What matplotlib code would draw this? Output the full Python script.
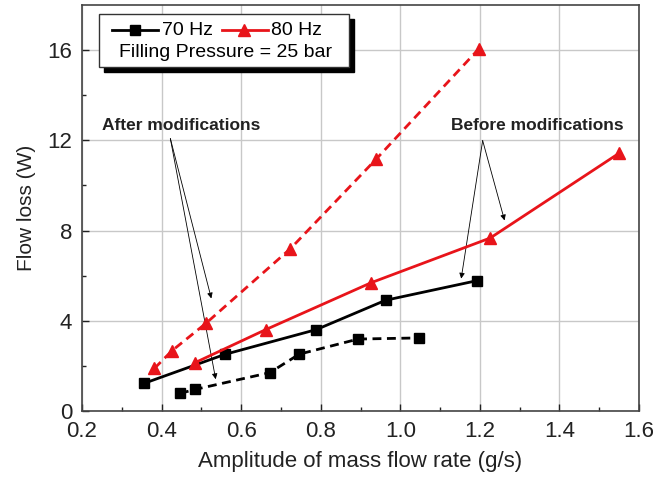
import matplotlib
matplotlib.use('Agg')
import matplotlib.pyplot as plt
from matplotlib.patches import Rectangle
from matplotlib.lines import Line2D

plt.rcParams['font.family'] = ['Liberation Sans', 'DejaVu Sans']

# 70 Hz, before modifications (solid)
x70_before = [0.355, 0.559, 0.789, 0.963, 1.193]
y70_before = [1.22, 2.51, 3.61, 4.91, 5.78]
# 70 Hz, after modifications (dashed)
x70_after = [0.446, 0.485, 0.672, 0.746, 0.894, 1.047]
y70_after = [0.78, 0.96, 1.70, 2.52, 3.19, 3.24]
# 80 Hz, before modifications (solid)
x80_before = [0.485, 0.662, 0.927, 1.226, 1.550]
y80_before = [2.15, 3.61, 5.69, 7.67, 11.43]
# 80 Hz, after modifications (dashed)
x80_after = [0.382, 0.426, 0.511, 0.724, 0.940, 1.197]
y80_after = [1.89, 2.67, 3.88, 7.20, 11.18, 16.05]

xticks = [0.2, 0.4, 0.6, 0.8, 1.0, 1.2, 1.4, 1.6]
yticks = [0, 4, 8, 12, 16]

fig = plt.figure(figsize=(6.53, 4.82), dpi=100)
ax = fig.add_axes([0.1256, 0.1473, 0.853, 0.8423])

red = '#e8141a'
dash = (3.2, 2.0)
ax.plot(x70_before, y70_before, '-', color='k', lw=2.0, marker='s', ms=6.5, zorder=4)
ax.plot(x70_after, y70_after, color='k', lw=2.0, ls=(0, dash), marker='s', ms=6.5, zorder=4)
ax.plot(x80_before, y80_before, '-', color=red, lw=2.0, marker='^', ms=8, zorder=4)
ax.plot(x80_after, y80_after, color=red, lw=2.0, ls=(0, dash), marker='^', ms=8, zorder=4)

ax.set_xlim(0.2, 1.6)
ax.set_ylim(0, 18)
ax.set_xticks(xticks)
ax.set_xticklabels(['%.1f' % v for v in xticks])
ax.set_yticks(yticks)
ax.set_xticks([0.3, 0.5, 0.7, 0.9, 1.1, 1.3, 1.5], minor=True)
ax.set_yticks([2, 6, 10, 14], minor=True)
ax.tick_params(which='both', direction='in', labelsize=16, colors='#222222', width=1.0)
ax.tick_params(which='major', length=5)
ax.tick_params(which='minor', length=3)
ax.tick_params(axis='x', which='major', pad=7)
ax.tick_params(axis='y', which='major', pad=7)
ax.grid(True, which='major', color='#c8c8c8', lw=1.0)
ax.set_axisbelow(True)
for s in ax.spines.values():
    s.set_color('#444444')
    s.set_linewidth(1.2)

ax.set_xlabel('Amplitude of mass flow rate (g/s)', fontsize=16, labelpad=7, color='#222222')
ax.set_ylabel('Flow loss (W)', fontsize=15, labelpad=8, color='#222222')

# annotations
arrow = dict(arrowstyle='-|>', lw=0.6, color='k', mutation_scale=8, shrinkA=0, shrinkB=0)
ax.text(0.45, 12.65, 'After modifications', fontsize=12.5, fontweight='bold',
        ha='center', va='center', color='#222222')
ax.text(1.344, 12.65, 'Before modifications', fontsize=12.5, fontweight='bold',
        ha='center', va='center', color='#222222')
for tip in [(0.525, 4.99), (0.536, 1.41)]:
    ax.annotate('', xy=tip, xytext=(0.422, 12.08), arrowprops=arrow)
for tip in [(1.153, 5.87), (1.262, 8.45)]:
    ax.annotate('', xy=tip, xytext=(1.207, 11.99), arrowprops=arrow)

# legend box with shadow
bx0, by0, bw, bh = 0.0305, 0.847, 0.4485, 0.131
ax.add_patch(Rectangle((bx0 + 0.009, by0 - 0.0123), bw, bh, transform=ax.transAxes,
                       facecolor='k', edgecolor='k', zorder=6, clip_on=False))
ax.add_patch(Rectangle((bx0, by0), bw, bh, transform=ax.transAxes,
                       facecolor='white', edgecolor='#333333', lw=1.0, zorder=7, clip_on=False))
ly = 0.938
ax.add_line(Line2D([0.054, 0.136], [ly, ly], transform=ax.transAxes, color='k', lw=2.0,
                   zorder=8, clip_on=False))
ax.add_line(Line2D([0.095], [ly], transform=ax.transAxes, color='k', marker='s', ms=6.5,
                   zorder=8, clip_on=False))
ax.text(0.143, ly, '70 Hz', transform=ax.transAxes, fontsize=14, va='center', zorder=8)
ax.add_line(Line2D([0.251, 0.334], [ly, ly], transform=ax.transAxes, color=red, lw=2.0,
                   zorder=8, clip_on=False))
ax.add_line(Line2D([0.291], [ly], transform=ax.transAxes, color=red, marker='^', ms=8,
                   zorder=8, clip_on=False))
ax.text(0.340, ly, '80 Hz', transform=ax.transAxes, fontsize=14, va='center', zorder=8)
ax.text(0.257, 0.884, 'Filling Pressure = 25 bar', transform=ax.transAxes, fontsize=14,
        ha='center', va='center', zorder=8)

fig.savefig('out.png', dpi=100)
